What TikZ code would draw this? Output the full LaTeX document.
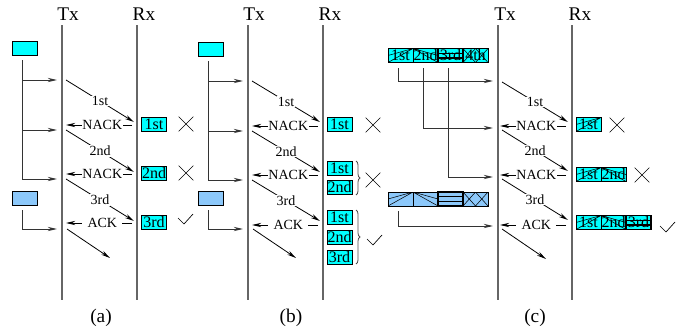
\documentclass[tikz,border=0pt]{standalone}
\usepackage{fontspec}
\setmainfont{Liberation Serif}
\usetikzlibrary{arrows.meta,shapes.misc,decorations.pathreplacing}
\definecolor{oldcyan}{RGB}{0,255,255}
\definecolor{newblue}{RGB}{140,200,250}

\begin{document}
\begin{tikzpicture}[x=0.75pt, y=-0.75pt,
      >={Stealth[length=7pt,width=3.2pt]},
      head/.style={font=\fontsize{14.5}{15}\selectfont},
      lbl/.style={fill=white, inner sep=0.5pt, font=\fontsize{10.5}{11}\selectfont},
      fb/.style={lbl, minimum width=30pt, pos=0.45},
      timeline/.style={draw=black!60, line width=0.9pt},
      feed/.style={->, draw=black!80, line width=0.7pt},
      msg/.style={->, line width=0.6pt},
      pkt/.style={draw, fill=oldcyan, minimum width=18.75pt, minimum height=10.5pt,
                  inner sep=0pt, font=\fontsize{12}{12}\selectfont},
      newpkt/.style={pkt, fill=newblue},
      lost/.style={draw, cross out, minimum size=10.5pt, inner sep=0pt, line width=0.5pt},
      okline/.style={line width=0.5pt},
      brace/.style={decorate, decoration={brace, amplitude=3pt}, draw=black!70, line width=0.6pt},
      hatchA/.style={path picture={\draw[line width=0.4pt]
          (path picture bounding box.south west) -- (path picture bounding box.north east)
          (path picture bounding box.west) -- (path picture bounding box.north east);}},
      hatchB/.style={path picture={\draw[line width=0.4pt]
          (path picture bounding box.north west) -- (path picture bounding box.south east)
          (path picture bounding box.north west) -- (path picture bounding box.east);}},
      hatchC/.style={line width=1pt, path picture={\draw[line width=1pt]
          ([yshift=-3.5pt]path picture bounding box.north west) -- ([yshift=-3.5pt]path picture bounding box.north east)
          ([yshift=3.5pt]path picture bounding box.south west) -- ([yshift=3.5pt]path picture bounding box.south east);}},
      hatchD/.style={path picture={\draw[line width=0.4pt]
          (path picture bounding box.south west) -- (path picture bounding box.north) -- (path picture bounding box.south east)
          (path picture bounding box.north west) -- (path picture bounding box.south) -- (path picture bounding box.north east);}},
    ]
    \useasboundingbox (0,0) rectangle (681,332);

    % ---------------- (a)
    \node[head] (a-tx) at (68,14) {Tx};
    \node[head] (a-rx) at (144,14) {Rx};
    \coordinate (a-txtop) at (62,25);  \coordinate (a-txbot) at (62,300);
    \coordinate (a-rxtop) at (137,25); \coordinate (a-rxbot) at (137,300);
    \draw[timeline] (a-txtop) -- (a-txbot);
    \draw[timeline] (a-rxtop) -- (a-rxbot);

    % buffers
    \node[pkt] (a-old) at (24.5,48) {};
    \node[newpkt] (a-new) at (24.5,198) {};
    \coordinate (a-f0) at (22,60);  \coordinate (a-f1) at (22,80);  \coordinate (a-f2) at (22,130);
    \coordinate (a-f4) at (22,210);
    \coordinate (a-t1) at (57,80);  \coordinate (a-t2) at (57,130);
    \coordinate (a-t3) at (57,179); \coordinate (a-t4) at (57,229);
    \draw[feed] (a-f0) |- (a-t3);
    \draw[feed] (a-f1) -- (a-t1);
    \draw[feed] (a-f2) -- (a-t2);
    \draw[feed] (a-f4) |- (a-t4);

    % transmissions
    \coordinate (a-s1) at (66,80);  \coordinate (a-r1) at (134,122);
    \coordinate (a-s2) at (66,130); \coordinate (a-r2) at (134,172);
    \coordinate (a-s3) at (66,179); \coordinate (a-r3) at (134,221);
    \coordinate (a-s4) at (67,229); \coordinate (a-r4) at (110,258);
    \coordinate (a-k1) at (132,125); \coordinate (a-n1) at (66,125);
    \coordinate (a-k2) at (132,174); \coordinate (a-n2) at (66,174);
    \coordinate (a-k3) at (132,223); \coordinate (a-n3) at (66,223);
    \draw[msg] (a-s1) -- node[lbl] {1st} (a-r1);
    \draw[msg] (a-k1) -- node[fb] {NACK} (a-n1);
    \draw[msg] (a-s2) -- node[lbl] {2nd} (a-r2);
    \draw[msg] (a-k2) -- node[fb] {NACK} (a-n2);
    \draw[msg] (a-s3) -- node[lbl] {3rd} (a-r3);
    \draw[msg] (a-k3) -- node[fb] {ACK} (a-n3);
    \draw[msg] (a-s4) -- (a-r4);

    % receiver
    \node[pkt] (a-p1) at (154,124) {1st};
    \node[pkt] (a-p2) at (154,173) {2nd};
    \node[pkt] (a-p3) at (154,222) {3rd};
    \node[lost] (a-x1) at (186,124) {};
    \node[lost] (a-x2) at (186,173) {};
    \coordinate (a-ok) at (178,218);
    \draw[okline] (a-ok) -- ++(6,6) -- ++(9,-10);
    \node[head] (a-cap) at (101,318) {(a)};

    % ---------------- (b)
    \node[head] (b-tx) at (254,14) {Tx};
    \node[head] (b-rx) at (330,14) {Rx};
    \coordinate (b-txtop) at (248,25); \coordinate (b-txbot) at (248,300);
    \coordinate (b-rxtop) at (323,25); \coordinate (b-rxbot) at (323,300);
    \draw[timeline] (b-txtop) -- (b-txbot);
    \draw[timeline] (b-rxtop) -- (b-rxbot);

    % buffers
    \node[pkt] (b-old) at (210.5,49) {};
    \node[newpkt] (b-new) at (210.5,198) {};
    \coordinate (b-f0) at (208,61);  \coordinate (b-f1) at (208,81);  \coordinate (b-f2) at (208,131);
    \coordinate (b-f4) at (208,210);
    \coordinate (b-t1) at (243,81);  \coordinate (b-t2) at (243,131);
    \coordinate (b-t3) at (243,180); \coordinate (b-t4) at (243,229);
    \draw[feed] (b-f0) |- (b-t3);
    \draw[feed] (b-f1) -- (b-t1);
    \draw[feed] (b-f2) -- (b-t2);
    \draw[feed] (b-f4) |- (b-t4);

    % transmissions
    \coordinate (b-s1) at (252,81);  \coordinate (b-r1) at (320,122);
    \coordinate (b-s2) at (252,131); \coordinate (b-r2) at (320,172);
    \coordinate (b-s3) at (252,180); \coordinate (b-r3) at (320,221);
    \coordinate (b-s4) at (253,229); \coordinate (b-r4) at (296,258);
    \coordinate (b-k1) at (318,126); \coordinate (b-n1) at (252,126);
    \coordinate (b-k2) at (318,175); \coordinate (b-n2) at (252,175);
    \coordinate (b-k3) at (318,225); \coordinate (b-n3) at (252,225);
    \draw[msg] (b-s1) -- node[lbl] {1st} (b-r1);
    \draw[msg] (b-k1) -- node[fb] {NACK} (b-n1);
    \draw[msg] (b-s2) -- node[lbl] {2nd} (b-r2);
    \draw[msg] (b-k2) -- node[fb] {NACK} (b-n2);
    \draw[msg] (b-s3) -- node[lbl] {3rd} (b-r3);
    \draw[msg] (b-k3) -- node[fb] {ACK} (b-n3);
    \draw[msg] (b-s4) -- (b-r4);

    % receiver (chase combining)
    \node[pkt] (b-p1) at (339.5,124) {1st};
    \node[pkt] (b-q1) at (339.5,168) {1st};
    \node[pkt] (b-q2) at (339.5,187.5) {2nd};
    \node[pkt] (b-u1) at (339.5,217) {1st};
    \node[pkt] (b-u2) at (339.5,237) {2nd};
    \node[pkt] (b-u3) at (339.5,257) {3rd};
    \coordinate (b-br1t) at (356,161); \coordinate (b-br1b) at (356,195);
    \coordinate (b-br2t) at (356,210); \coordinate (b-br2b) at (356,264);
    \draw[brace] (b-br1t) -- (b-br1b);
    \draw[brace] (b-br2t) -- (b-br2b);
    \node[lost] (b-x1) at (373,125) {};
    \node[lost] (b-x2) at (373,180) {};
    \coordinate (b-ok) at (367,239);
    \draw[okline] (b-ok) -- ++(6,6) -- ++(9,-10);
    \node[head] (b-cap) at (291,318) {(b)};

    % ---------------- (c)
    \node[head] (c-tx) at (505,14) {Tx};
    \node[head] (c-rx) at (580,14) {Rx};
    \coordinate (c-txtop) at (498,25); \coordinate (c-txbot) at (498,300);
    \coordinate (c-rxtop) at (572,25); \coordinate (c-rxbot) at (572,300);
    \draw[timeline] (c-txtop) -- (c-txbot);
    \draw[timeline] (c-rxtop) -- (c-rxbot);

    % buffers (incremental redundancy)
    \node[pkt, hatchA] (c-o1) at (400.5,55.5) {1st};
    \node[pkt, hatchB] (c-o2) at (425.5,55.5) {2nd};
    \node[pkt, hatchC] (c-o3) at (450.5,55.5) {3rd};
    \node[pkt, hatchD] (c-o4) at (475.5,55.5) {4th};
    \node[newpkt, hatchA] (c-w1) at (400.5,199) {};
    \node[newpkt, hatchB] (c-w2) at (425.5,199) {};
    \node[newpkt, hatchC] (c-w3) at (450.5,199) {};
    \node[newpkt, hatchD] (c-w4) at (475.5,199) {};
    \coordinate (c-f1) at (398,68);  \coordinate (c-f2) at (423,68);
    \coordinate (c-f3) at (448,68);  \coordinate (c-f4) at (398,211);
    \coordinate (c-t1) at (493,81);  \coordinate (c-t2) at (493,128);
    \coordinate (c-t3) at (493,177); \coordinate (c-t4) at (493,226);
    \draw[feed] (c-f1) |- (c-t1);
    \draw[feed] (c-f2) |- (c-t2);
    \draw[feed] (c-f3) |- (c-t3);
    \draw[feed] (c-f4) |- (c-t4);

    % transmissions
    \coordinate (c-s1) at (502,82);  \coordinate (c-r1) at (568,122);
    \coordinate (c-s2) at (502,130); \coordinate (c-r2) at (568,171);
    \coordinate (c-s3) at (502,179); \coordinate (c-r3) at (568,220);
    \coordinate (c-s4) at (502,229); \coordinate (c-r4) at (546,259);
    \coordinate (c-k1) at (566,126); \coordinate (c-n1) at (500,126);
    \coordinate (c-k2) at (566,175); \coordinate (c-n2) at (500,175);
    \coordinate (c-k3) at (566,225); \coordinate (c-n3) at (500,225);
    \draw[msg] (c-s1) -- node[lbl] {1st} (c-r1);
    \draw[msg] (c-k1) -- node[fb] {NACK} (c-n1);
    \draw[msg] (c-s2) -- node[lbl] {2nd} (c-r2);
    \draw[msg] (c-k2) -- node[fb] {NACK} (c-n2);
    \draw[msg] (c-s3) -- node[lbl] {3rd} (c-r3);
    \draw[msg] (c-k3) -- node[fb] {ACK} (c-n3);
    \draw[msg] (c-s4) -- (c-r4);

    % receiver
    \node[pkt, hatchA] (c-p1) at (588.5,124.5) {1st};
    \node[pkt, hatchA] (c-q1) at (588.5,174.5) {1st};
    \node[pkt, hatchB] (c-q2) at (613.5,174.5) {2nd};
    \node[pkt, hatchA] (c-u1) at (588.5,222.5) {1st};
    \node[pkt, hatchB] (c-u2) at (613.5,222.5) {2nd};
    \node[pkt, hatchC] (c-u3) at (638.5,222.5) {3rd};
    \node[lost] (c-x1) at (617,125) {};
    \node[lost] (c-x2) at (642,175) {};
    \coordinate (c-ok) at (660,226);
    \draw[okline] (c-ok) -- ++(6,6) -- ++(9,-10);
    \node[head] (c-cap) at (535,318) {(c)};

  \end{tikzpicture}
\end{document}
